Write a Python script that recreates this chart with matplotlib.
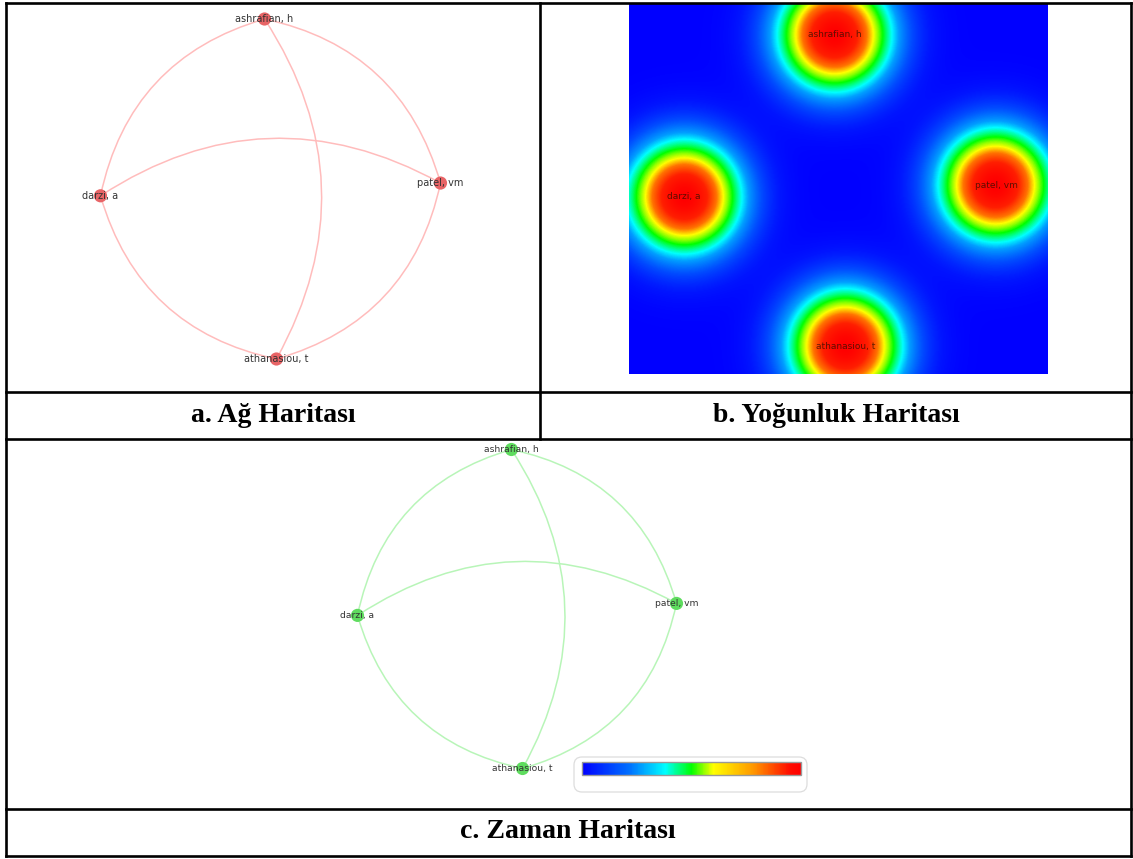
import numpy as np
import matplotlib
matplotlib.use("Agg")
import matplotlib.pyplot as plt
from matplotlib.path import Path
from matplotlib.patches import PathPatch, FancyBboxPatch
from matplotlib.colors import LinearSegmentedColormap
from matplotlib.cm import ScalarMappable

# co-authorship network: author names and their layout positions
authors = ["ashrafian, h", "darzi, a", "patel, vm", "athanasiou, t"]
pos_x = [-0.035, -1.0, 1.0, 0.035]
pos_y = [1.0, -0.04, 0.035, -1.0]
weights = [1.0, 1.0, 1.0, 1.0]
# links (drawn as curves bending to the left of the from->to direction)
links = [(1, 0), (0, 2), (2, 3), (3, 1), (1, 2), (0, 3)]

captions = ["a. Ağ Haritası", "b. Yoğunluk Haritası", "c. Zaman Haritası"]

W, H = 1133, 859
fig = plt.figure(figsize=(W / 100, H / 100), dpi=100)

# colour scale of the overlay view
vos = LinearSegmentedColormap.from_list("vos", [
    (0.0, (0, 0, 1)), (0.22, (0, 0.45, 1)), (0.38, (0, 1, 1)),
    (0.5, (0, 1, 0)), (0.6, (1, 1, 0)), (0.78, (1, 0.6, 0)),
    (0.95, (1, 0.05, 0)), (1.0, (1, 0, 0))])

# density colours (blue background, red cores)
dens_cmap = LinearSegmentedColormap.from_list("dens", [
    (0.0, (0, 0, 1)), (0.05, (0, 0.08, 1)), (0.15, (0, 0.3, 1)),
    (0.27, (0, 0.62, 1)), (0.35, (0, 1, 1)), (0.41, (0, 1, 0.55)),
    (0.48, (0, 1, 0)), (0.55, (0.55, 1, 0)), (0.62, (1, 1, 0)),
    (0.72, (1, 0.45, 0)), (0.85, (1, 0.12, 0)), (1.0, (1, 0, 0))])


def px_axes(x0, y0, x1, y1, zorder=1):
    return fig.add_axes([x0 / W, 1 - y1 / H, (x1 - x0) / W, (y1 - y0) / H], zorder=zorder)


def layout_axes(x0, y0, x1, y1, cx, cy, s):
    ax = px_axes(x0, y0, x1, y1)
    ax.set_xlim((x0 - cx) / s, (x1 - cx) / s)
    ax.set_ylim((cy - y1) / s, (cy - y0) / s)
    ax.axis("off")
    return ax


def draw_network(ax, node_col, edge_col, fs):
    for a, b in links:
        p0 = np.array([pos_x[a], pos_y[a]])
        p1 = np.array([pos_x[b], pos_y[b]])
        d = p1 - p0
        ctrl = (p0 + p1) / 2 + 0.30 * np.array([-d[1], d[0]])
        path = Path([p0, ctrl, p1], [Path.MOVETO, Path.CURVE3, Path.CURVE3])
        ax.add_patch(PathPatch(path, fill=False, ec=edge_col, lw=1.1, zorder=1))
    ax.scatter(pos_x, pos_y, s=90, c=node_col, edgecolors="none", zorder=3)
    for name, x, y in zip(authors, pos_x, pos_y):
        ax.text(x, y, name, ha="center", va="center", fontsize=fs,
                color="#333333", family="DejaVu Sans", zorder=4)


# a. network view
ax_a = layout_axes(8, 5, 538, 390, 270.5, 189, 170)
draw_network(ax_a, "#e86466", "#ffbcbc", 7)

# b. density view
ax_b = layout_axes(629, 4, 1048, 374, 840, 190.5, 156)
gx = np.linspace(*ax_b.get_xlim(), 420)
gy = np.linspace(*ax_b.get_ylim(), 370)
X, Y = np.meshgrid(gx, gy)
sigma = 0.255
dens = np.zeros_like(X)
for w, x, y in zip(weights, pos_x, pos_y):
    dens += w * np.exp(-((X - x) ** 2 + (Y - y) ** 2) / (2 * sigma ** 2))
ax_b.imshow(dens, cmap=dens_cmap, vmin=0, vmax=1, origin="lower", aspect="auto",
            extent=[gx[0], gx[-1], gy[0], gy[-1]], interpolation="bilinear")
for name, x, y in zip(authors, pos_x, pos_y):
    ax_b.text(x, y, name, ha="center", va="center", fontsize=6.5,
              color="#2a1000", alpha=0.75, family="DejaVu Sans")

# c. overlay (time) view
ax_c = layout_axes(8, 441, 1129, 807, 517, 609, 159.5)
draw_network(ax_c, "#5fdc5f", "#b8f5b8", 6.6)

# colour scale box
ax_box = px_axes(570, 752, 812, 797, zorder=2)
ax_box.set_xlim(570, 812)
ax_box.set_ylim(797, 752)
ax_box.axis("off")
ax_box.add_patch(FancyBboxPatch((574, 757), 233, 35, boxstyle="round,pad=0,rounding_size=8",
                                fc="white", ec="#dddddd", lw=0.9))
cax = px_axes(582, 762, 801, 775, zorder=3)
cb = fig.colorbar(ScalarMappable(cmap=vos), cax=cax, orientation="horizontal")
cb.set_ticks([])
cb.outline.set_edgecolor("#999999")
cb.outline.set_linewidth(1.0)

# table frame and captions
ax_t = px_axes(0, 0, W, H, zorder=5)
ax_t.set_xlim(0, W)
ax_t.set_ylim(H, 0)
ax_t.axis("off")
ax_t.patch.set_alpha(0)
lw = 1.9
for y in [3, 392, 439, 809, 856]:
    ax_t.plot([6, 1131], [y, y], color="black", lw=lw, solid_capstyle="projecting")
for x in [6, 1131]:
    ax_t.plot([x, x], [3, 856], color="black", lw=lw, solid_capstyle="projecting")
ax_t.plot([540, 540], [3, 439], color="black", lw=lw)

cap_pos = [(273, 415), (836, 415), (568, 831)]
for text, (x, y) in zip(captions, cap_pos):
    ax_t.text(x, y, text, ha="center", va="center", fontsize=20,
              fontweight="bold", family="Liberation Serif")

fig.savefig("out.png", dpi=100)
